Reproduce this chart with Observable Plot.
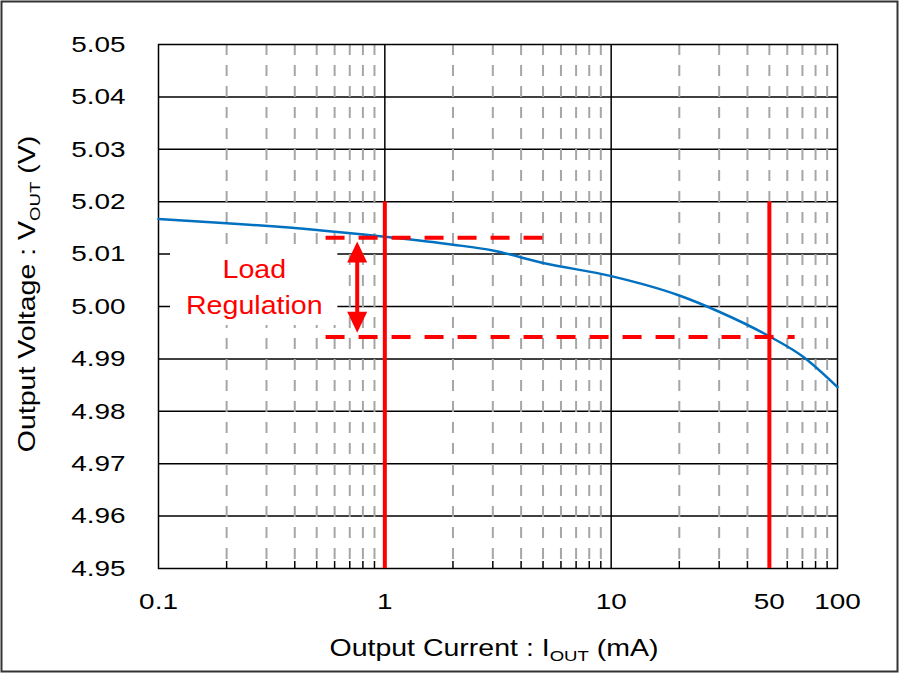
<!DOCTYPE html>
<html><head><meta charset="utf-8">
<script src="https://cdn.jsdelivr.net/npm/d3@7"></script>
<script src="https://cdn.jsdelivr.net/npm/@observablehq/plot@0.6"></script>
<style>
body{margin:0;background:#fff}
#chart svg{display:block}
</style>
</head><body><div id="chart"></div>
<script>
// ---- data ----
const currentMA = [0.1, 0.2, 0.5, 1, 2, 3, 5, 10, 20, 30, 50, 70, 100];
const voltageV  = [5.0167, 5.0159, 5.0146, 5.0133, 5.0118, 5.0107, 5.0083, 5.0058, 5.0021, 4.9990, 4.9943, 4.9905, 4.9846];

const xTickValues = [0.1, 1, 10, 50, 100];
const xTickLabels = ["0.1", "1", "10", "50", "100"];
const xMajorGrid = [1, 10];
const xMinorGrid = [0.2,0.3,0.4,0.5,0.6,0.7,0.8,0.9, 2,3,4,5,6,7,8,9, 20,30,40,50,60,70,80,90];
const yTickValues = [4.95,4.96,4.97,4.98,4.99,5.00,5.01,5.02,5.03,5.04,5.05];
const yGridValues = [4.96,4.97,4.98,4.99,5.00,5.01,5.02,5.03,5.04];

const markerCurrents = [1, 50];
const markerTop = [5.02, 5.02];
const regLevels = [5.0131, 4.9942];
const regFrom = [0.55, 0.55];
const regTo = [5, 65];
const arrowX = [0.755];
const arrowTips = [5.0124, 4.9950];
const noteLines = ["Load", "Regulation"];
const noteX = [0.265, 0.265];
const noteY = [5.0070, 5.0002];
const noteBoxX = [0.113, 0.62];
const noteBoxY = [4.99637, 5.01069];

const xTitle = ["Output Current : I", "OUT", " (mA)"];
const yTitle = ["Output Voltage : V", "OUT", " (V)"];

// ---- tables ----
const curve = currentMA.map((x, i) => ({x, y: voltageV[i]}));
const regRules = regLevels.map((y, i) => ({y, x1: regFrom[i], x2: regTo[i]}));
const markers = markerCurrents.map((x, i) => ({x, top: markerTop[i]}));
const notes = noteLines.map((t, i) => ({t, x: noteX[i], y: noteY[i]}));
const box = [{x1: noteBoxX[0], x2: noteBoxX[1], y1: noteBoxY[0], y2: noteBoxY[1]}];
const xLabels = xTickValues.map((x, i) => ({x, label: xTickLabels[i]}));
const heads = [
  {x: arrowX[0], y: arrowTips[0], dir: "up"},
  {x: arrowX[0], y: arrowTips[1], dir: "down"}
];

const headUp = {draw(ctx) { ctx.moveTo(0, 0); ctx.lineTo(10, 21); ctx.lineTo(-10, 21); ctx.closePath(); }};
const headDown = {draw(ctx) { ctx.moveTo(0, 0); ctx.lineTo(10, -21); ctx.lineTo(-10, -21); ctx.closePath(); }};

const FONT = "'Liberation Sans', Arial, Helvetica, sans-serif";

const plot = Plot.plot({
  width: 900,
  height: 674,
  marginLeft: 158,
  marginRight: 63,
  marginTop: 44,
  marginBottom: 106,
  style: {fontFamily: FONT, color: "#000", background: "#fff", overflow: "visible"},
  x: {type: "log", domain: [0.1, 100], label: null},
  y: {domain: [4.95, 5.05], label: null},
  marks: [
    Plot.gridY(yGridValues, {stroke: "#000", strokeOpacity: 1, strokeWidth: 1.5}),
    Plot.gridX(xMajorGrid, {stroke: "#000", strokeOpacity: 1, strokeWidth: 1.5}),
    Plot.ruleX(xMinorGrid, {x: d => d, y1: 5.05, y2: 4.95, stroke: "#a6a6a6", strokeWidth: 2, strokeDasharray: "11,10"}),
    Plot.axisX(xMinorGrid, {tickSize: 7, dy: -7, tickFormat: () => "", label: null, stroke: "#000", strokeWidth: 1.5}),
    Plot.frame({stroke: "#000", strokeWidth: 1.5}),
    Plot.rect(box, {x1: "x1", x2: "x2", y1: "y1", y2: "y2", fill: "#fff"}),
    Plot.line(curve, {x: "x", y: "y", stroke: "#0070c0", strokeWidth: 2.5, curve: "monotone-x"}),
    Plot.ruleX(markers, {x: "x", y1: 4.95, y2: "top", stroke: "#ff0000", strokeWidth: 4}),
    Plot.ruleY(regRules, {y: "y", x1: "x1", x2: "x2", stroke: "#ff0000", strokeWidth: 4, strokeDasharray: "19,14"}),
    Plot.ruleX(arrowX, {x: d => d, y1: arrowTips[0], y2: arrowTips[1], stroke: "#ff0000", strokeWidth: 4, insetTop: 12, insetBottom: 12}),
    Plot.dot(heads.filter(d => d.dir === "up"), {x: "x", y: "y", symbol: headUp, fill: "#ff0000", stroke: "none"}),
    Plot.dot(heads.filter(d => d.dir === "down"), {x: "x", y: "y", symbol: headDown, fill: "#ff0000", stroke: "none"}),
    Plot.text(notes, {x: "x", y: "y", text: "t", fill: "#ff0000", fontSize: 26, fontFamily: FONT}),
    Plot.text(xLabels, {x: "x", text: "label", frameAnchor: "bottom", lineAnchor: "top", dy: 25, fontSize: 22.5, fill: "#000", fontFamily: FONT}),
    Plot.axisY(yTickValues, {tickSize: 0, tickPadding: 33, tickFormat: d3.format(".2f"), fontSize: 22.5, label: null})
  ]
});

document.getElementById("chart").appendChild(plot);
const svg = d3.select(plot);

function stretch(sel, f) {
  sel.each(function() {
    const L = this.getComputedTextLength();
    if (L > 0) {
      this.setAttribute("textLength", (L * f).toFixed(2));
      this.setAttribute("lengthAdjust", "spacingAndGlyphs");
    }
  });
}
const textGroups = svg.selectAll('g[aria-label="text"]').nodes();
stretch(d3.select(textGroups[0]).selectAll("text"), 1.1);
stretch(d3.select(textGroups[1]).selectAll("text"), 1.24);
stretch(svg.selectAll('g[aria-label="y-axis tick label"] text'), 1.24);

function title(parts, transform) {
  const g = svg.append("g").attr("transform", transform);
  const t = g.append("text").attr("text-anchor", "middle")
    .attr("font-family", FONT).attr("font-size", 23).attr("fill", "#000");
  t.append("tspan").text(parts[0]);
  t.append("tspan").attr("font-size", 15).attr("dy", 5).text(parts[1]);
  t.append("tspan").attr("dy", -5).text(parts[2]);
}
title(xTitle, "translate(494,656) scale(1.24,1)");
title(yTitle, "translate(35,294) rotate(-90) scale(1.24,1)");

svg.append("rect").attr("x", 1.5).attr("y", 1.5).attr("width", 896).attr("height", 670)
  .attr("fill", "none").attr("stroke", "#333").attr("stroke-width", 2);
</script>
</body></html>
